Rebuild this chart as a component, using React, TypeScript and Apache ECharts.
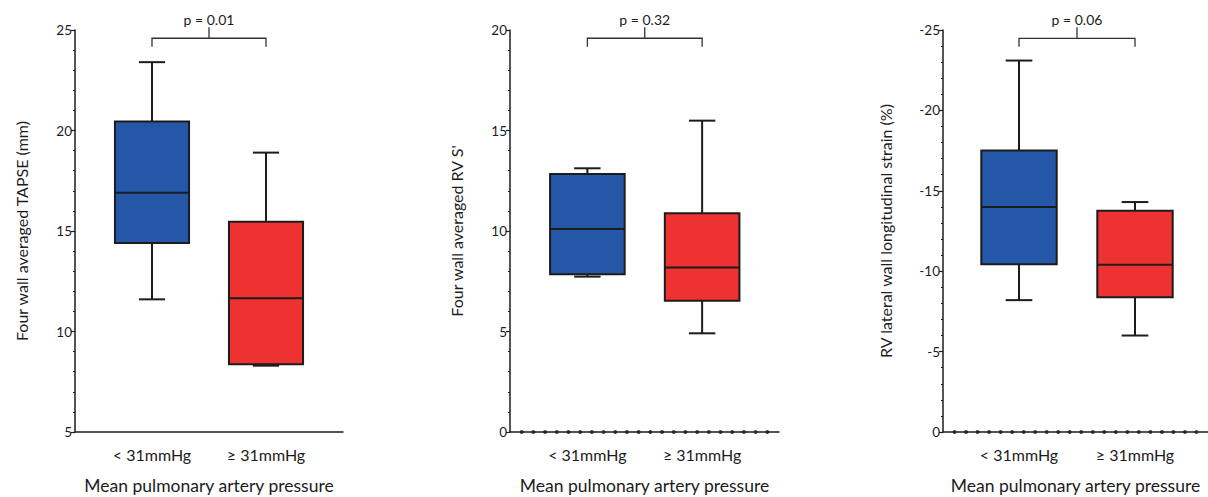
import React, { useEffect, useRef } from "react";
import * as echarts from "echarts";

// ---- data ----
const categories = ["< 31mmHg", "≥ 31mmHg"];
const xAxisTitle = "Mean pulmonary artery pressure";

const yTitles = [
  "Four wall averaged TAPSE (mm)",
  "Four wall averaged RV S'",
  "RV lateral wall longitudinal strain (%)",
];

// [min, Q1, median, Q3, max] per group
const tapseBoxes = [
  [11.6, 14.4, 16.9, 20.45, 23.4],
  [8.3, 8.37, 11.65, 15.46, 18.9],
];
const rvsBoxes = [
  [7.73, 7.85, 10.1, 12.84, 13.12],
  [4.91, 6.53, 8.19, 10.88, 15.49],
];
const strainBoxes = [
  [-23.1, -17.5, -14.0, -10.43, -8.2],
  [-14.3, -13.76, -10.4, -8.38, -6.0],
];

// axis [min, max, interval]
const tapseAxis = [5, 25, 5];
const rvsAxis = [0, 20, 5];
const strainAxis = [-25, 0, 5];

const pLabels = ["p = 0.01", "p = 0.32", "p = 0.06"];
const bracketLevels = [24.59, 19.59, -24.48];

const boxColors = ["#2457A7", "#EE3231"];

// ---- layout (pixels) ----
const W = 1208;
const H = 497;
const TOP = 30;
const BOTTOM = 65;
const FONT = "Lato";
const INK = "#1c1c1c";

const panels = [
  { boxes: tapseBoxes, axis: tapseAxis, inverse: false, dots: false, main: [75, 343], inner: [95, 323], nameGap: 46 },
  { boxes: rvsBoxes, axis: rvsAxis, inverse: false, dots: true, main: [510, 779], inner: [530, 759.5], nameGap: 46 },
  { boxes: strainBoxes, axis: strainAxis, inverse: true, dots: true, main: [943, 1208], inner: [961, 1193], nameGap: 50 },
];

const dotCount = 22;

function buildOption() {
  const grid: any[] = [];
  const xAxis: any[] = [];
  const yAxis: any[] = [];
  const series: any[] = [];

  panels.forEach((p, pi) => {
    const [mn, mx, iv] = p.axis;
    grid.push({ left: p.main[0], right: W - p.main[1], top: TOP, bottom: BOTTOM, containLabel: false, outerBoundsMode: "none" });
    grid.push({ left: p.inner[0], right: W - p.inner[1], top: TOP, bottom: BOTTOM, containLabel: false, outerBoundsMode: "none" });

    xAxis.push({
      gridIndex: 2 * pi,
      type: "value",
      min: 0,
      max: dotCount + 1,
      axisLine: { show: true, onZero: false, lineStyle: { color: INK, width: 1.5 } },
      axisTick: { show: false },
      axisLabel: { show: false },
      splitLine: { show: false },
      name: xAxisTitle,
      nameLocation: "middle",
      nameGap: 44,
      nameTextStyle: { fontFamily: FONT, fontSize: 17.5, color: INK },
    });
    xAxis.push({
      gridIndex: 2 * pi + 1,
      type: "category",
      data: categories,
      axisLine: { show: false },
      axisTick: { show: false },
      axisLabel: { fontFamily: FONT, fontSize: 16, color: INK, margin: 14 },
      splitLine: { show: false },
    });

    yAxis.push({
      gridIndex: 2 * pi,
      type: "value",
      min: mn,
      max: mx,
      interval: iv,
      inverse: p.inverse,
      axisLine: { show: true, onZero: false, lineStyle: { color: INK, width: 1.5 } },
      axisTick: { show: true, length: 4, lineStyle: { color: INK, width: 1.2 } },
      minorTick: { show: true, splitNumber: 5, length: 2, lineStyle: { color: INK, width: 1 } },
      axisLabel: { fontFamily: FONT, fontSize: 13.5, color: INK, margin: 3 },
      splitLine: { show: false },
      name: yTitles[pi],
      nameLocation: "middle",
      nameRotate: 90,
      nameGap: p.nameGap,
      nameTextStyle: { fontFamily: FONT, fontSize: 16, color: INK },
    });
    yAxis.push({
      gridIndex: 2 * pi + 1,
      type: "value",
      min: mn,
      max: mx,
      interval: iv,
      inverse: p.inverse,
      show: false,
    });

    series.push({
      type: "custom",
      xAxisIndex: 2 * pi + 1,
      yAxisIndex: 2 * pi + 1,
      clip: false,
      silent: true,
      encode: { x: 0, y: [1, 2, 3, 4, 5] },
      data: p.boxes.map((b, i) => [i, ...b]),
      renderItem: (params: any, api: any) => {
        const i = api.value(0);
        const vmin = api.value(1);
        const q1 = api.value(2);
        const med = api.value(3);
        const q3 = api.value(4);
        const vmax = api.value(5);
        const band = api.size([1, 0])[0];
        const bw = band * 0.65;
        const cw = band * 0.23;
        const cx = api.coord([i, med])[0];
        const y = (v: number) => api.coord([i, v])[1];
        const ls = { stroke: INK, lineWidth: 2 };
        const yq1 = y(q1);
        const yq3 = y(q3);
        return {
          type: "group",
          children: [
            { type: "line", shape: { x1: cx, y1: y(vmax), x2: cx, y2: yq3 }, style: ls },
            { type: "line", shape: { x1: cx, y1: y(vmin), x2: cx, y2: yq1 }, style: ls },
            { type: "line", shape: { x1: cx - cw / 2, y1: y(vmax), x2: cx + cw / 2, y2: y(vmax) }, style: ls },
            { type: "line", shape: { x1: cx - cw / 2, y1: y(vmin), x2: cx + cw / 2, y2: y(vmin) }, style: ls },
            {
              type: "rect",
              shape: { x: cx - bw / 2, y: Math.min(yq1, yq3), width: bw, height: Math.abs(yq3 - yq1) },
              style: { fill: boxColors[i], stroke: INK, lineWidth: 2 },
            },
            { type: "line", shape: { x1: cx - bw / 2, y1: y(med), x2: cx + bw / 2, y2: y(med) }, style: ls },
          ],
        };
      },
    });

    series.push({
      type: "custom",
      xAxisIndex: 2 * pi + 1,
      yAxisIndex: 2 * pi + 1,
      clip: false,
      silent: true,
      data: [[0, bracketLevels[pi]]],
      renderItem: (params: any, api: any) => {
        const lv = api.value(1);
        const p0 = api.coord([0, lv]);
        const p1 = api.coord([1, lv]);
        const mid = (p0[0] + p1[0]) / 2;
        const st = { stroke: "#333", lineWidth: 1.3, fill: "none" };
        return {
          type: "group",
          children: [
            {
              type: "polyline",
              shape: { points: [[p0[0], p0[1] + 8.5], [p0[0], p0[1]], [p1[0], p1[1]], [p1[0], p1[1] + 8.5]] },
              style: st,
            },
            { type: "line", shape: { x1: mid, y1: p0[1], x2: mid, y2: p0[1] - 11 }, style: st },
            {
              type: "text",
              style: {
                text: pLabels[pi],
                x: mid,
                y: p0[1] - 19,
                align: "center",
                verticalAlign: "middle",
                fontFamily: FONT,
                fontSize: 14,
                fill: INK,
              },
            },
          ],
        };
      },
    });

    if (p.dots) {
      series.push({
        type: "scatter",
        xAxisIndex: 2 * pi,
        yAxisIndex: 2 * pi,
        clip: false,
        silent: true,
        symbol: "circle",
        symbolSize: 4,
        itemStyle: { color: INK },
        data: Array.from({ length: dotCount }, (_, k) => [k + 1, 0]),
      });
    }
  });

  return { animation: false, backgroundColor: "#fff", grid, xAxis, yAxis, series };
}

export default function App() {
  const ref = useRef<HTMLDivElement>(null);
  useEffect(() => {
    if (!ref.current) return;
    const chart = echarts.init(ref.current, undefined, { renderer: "svg" });
    chart.setOption(buildOption() as any);
    return () => chart.dispose();
  }, []);
  return (
    <div
      ref={ref}
      style={{ position: "fixed", left: 0, top: 0, width: W, height: H, background: "#fff" }}
    />
  );
}
